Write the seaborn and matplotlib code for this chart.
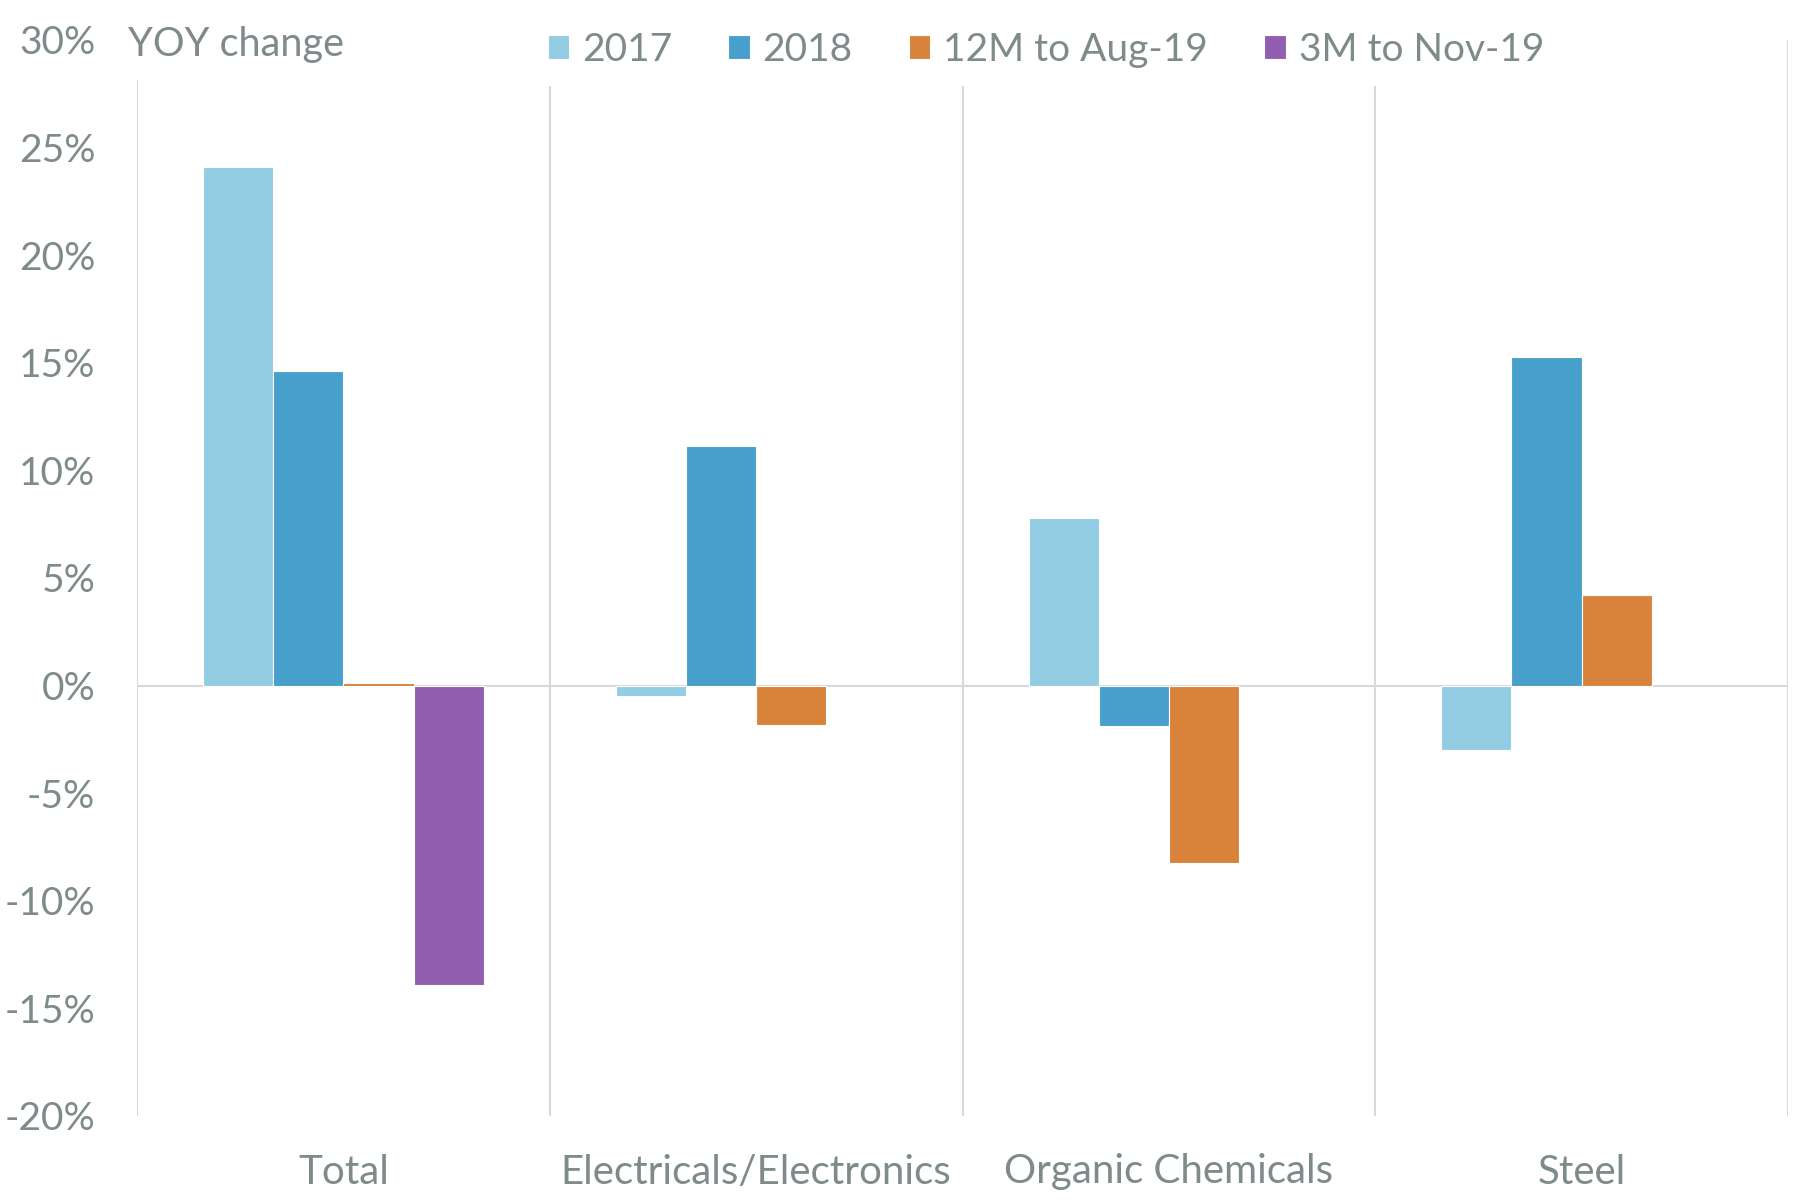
import numpy as np
import pandas as pd
import matplotlib.pyplot as plt
import seaborn as sns
from matplotlib.ticker import FixedLocator, FuncFormatter

#%% Data (YOY change, %)

categories = ["Total", "Electricals/Electronics", "Organic Chemicals", "Steel"]
series = ["2017", "2018", "12M to Aug-19", "3M to Nov-19"]

y2017 = [24.1, -0.5, 7.8, -3.0]
y2018 = [14.6, 11.15, -1.9, 15.25]
y12m_aug19 = [0.1, -1.85, -8.25, 4.2]
y3m_nov19 = [-13.9, np.nan, np.nan, np.nan]

colours = ["#93CDE3", "#47A0CB", "#D9823B", "#925FB0"]
grey_text = "#7F8B8B"
grey_line = "#D9D9D9"

df = pd.DataFrame({"category": categories * 4,
                   "series": np.repeat(series, 4),
                   "value": y2017 + y2018 + y12m_aug19 + y3m_nov19})

#%% Plot

sns.set_theme(style="white")
plt.rcParams["font.family"] = ["Lato", "DejaVu Sans"]

fig = plt.figure(figsize=(18.16, 12.02), dpi=100)
ax = fig.add_axes([137/1816, 1 - 1116/1202, (1788-137)/1816, (1116-40)/1202])

sns.barplot(data=df, x="category", y="value", hue="series",
            order=categories, hue_order=series, palette=colours,
            saturation=1, width=0.68, gap=0, errorbar=None, ax=ax,
            edgecolor="white", linewidth=0.8, legend=True)

ax.set_xlim(-0.5, len(categories) - 0.5)
ax.set_ylim(-20, 30)
ax.set_yticks(np.arange(-20, 31, 5))
ax.yaxis.set_major_formatter(FuncFormatter(lambda v, p: f"{v:.0f}%"))
ax.set_xlabel("")
ax.set_ylabel("")

# category separators as minor gridlines
ax.xaxis.set_minor_locator(FixedLocator(np.arange(-0.5, len(categories), 1.0)))
ax.grid(which="minor", axis="x", color=grey_line, linewidth=1.5)
ax.grid(which="major", visible=False)
ax.axhline(0, color=grey_line, linewidth=1.5, zorder=0.5)

for s in ax.spines.values():
    s.set_visible(False)

ax.tick_params(axis="both", which="both", length=0, labelcolor=grey_text)
ax.tick_params(axis="y", pad=30, labelsize=28)
ax.tick_params(axis="x", pad=27, labelsize=29)

# legend across the top
handles, labels = ax.get_legend_handles_labels()
ax.get_legend().remove()
fig.legend(handles, labels, loc="center left",
           bbox_to_anchor=(530/1816, 1 - 50/1202),
           bbox_transform=fig.transFigure, ncol=4, frameon=True,
           facecolor="white", edgecolor="none", framealpha=1,
           fontsize=28, labelcolor=grey_text, borderaxespad=0,
           borderpad=0.45, handlelength=0.55, handleheight=0.57,
           handletextpad=0.33, columnspacing=1.45)

fig.text(128/1816, 1 - 56/1202, "YOY change", fontsize=28.5, color=grey_text,
         ha="left", va="baseline",
         bbox=dict(facecolor="white", edgecolor="none", pad=12))

plt.savefig("out.png", dpi=100)
